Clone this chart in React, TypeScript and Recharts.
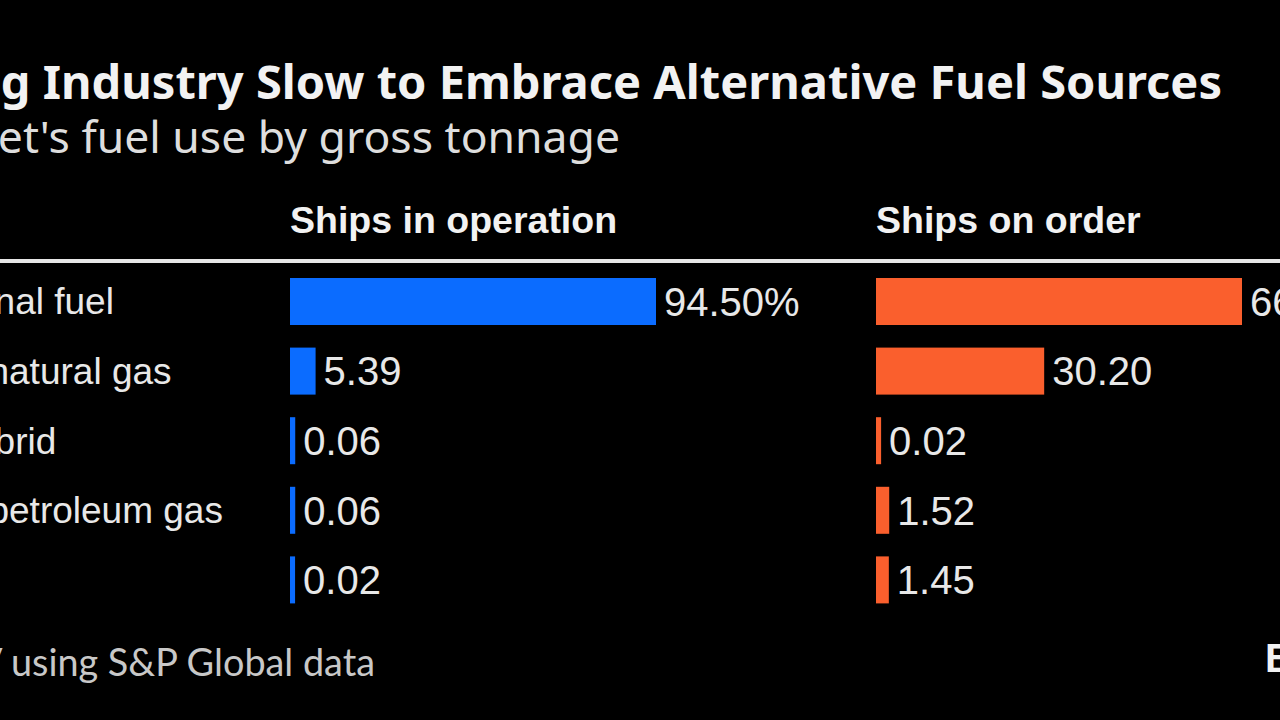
import React from "react";
import { BarChart, Bar, XAxis, YAxis, LabelList } from "recharts";

const categories = [
  "Conventional fuel",
  "Liquefied natural gas",
  "Battery hybrid",
  "Liquefied petroleum gas",
  "Methanol",
];
const inOperation = [94.5, 5.39, 0.06, 0.06, 0.02];
const onOrder = [66.81, 30.2, 0.02, 1.52, 1.45];

const TITLE = "Shipping Industry Slow to Embrace Alternative Fuel Sources";
const SUBTITLE = "Global fleet's fuel use by gross tonnage";
const HEAD_LEFT = "Ships in operation";
const HEAD_RIGHT = "Ships on order";
const SOURCE = "Source: DNV using S&P Global data";
const LOGO = "Bloomberg";

const fmt = (v: number, i: number) => (i === 0 ? v.toFixed(2) + "%" : v.toFixed(2));

const data = categories.map((name, i) => ({
  name,
  op: inOperation[i],
  ord: onOrder[i],
  opLabel: fmt(inOperation[i], i),
  ordLabel: fmt(onOrder[i], i),
}));

const LABEL_FONT = "'Liberation Sans', Arial, sans-serif";
const TITLE_FONT = "'Noto Sans', 'Open Sans', sans-serif";
const BLUE = "#0b6cff";
const ORANGE = "#fa5f2d";
const TEXT = "#e8e8e8";

const renderBar = (color: string) => (props: any) => {
  const { x, y, width, height } = props;
  return (
    <rect
      x={Number(x) - 5}
      y={Number(y)}
      width={Math.max(0, Number(width)) + 5}
      height={Number(height)}
      fill={color}
    />
  );
};

const CatTick = (props: any) => {
  const { y, payload } = props;
  return (
    <text
      x={28}
      y={y}
      dominantBaseline="central"
      textAnchor="start"
      fill={TEXT}
      fontSize={37}
      fontFamily={LABEL_FONT}
    >
      {payload.value}
    </text>
  );
};

export default function App() {
  return (
    <div
      style={{
        position: "fixed",
        left: 0,
        top: 0,
        width: 1280,
        height: 720,
        overflow: "hidden",
        background: "#000",
      }}
    >
      <svg width={1280} height={720} style={{ position: "absolute", left: 0, top: 0 }}>
        <text
          x={1222}
          y={99}
          textAnchor="end"
          fill="#f2f2f2"
          fontSize={47}
          fontWeight={700}
          fontFamily={TITLE_FONT}
        >
          {TITLE}
        </text>
        <text
          x={620}
          y={153}
          textAnchor="end"
          fill="#dedede"
          fontSize={44.5}
          fontFamily={TITLE_FONT}
        >
          {SUBTITLE}
        </text>
        <text
          x={290}
          y={233}
          fill="#f2f2f2"
          fontSize={37.5}
          fontWeight={700}
          fontFamily={LABEL_FONT}
        >
          {HEAD_LEFT}
        </text>
        <text
          x={876}
          y={233}
          fill="#f2f2f2"
          fontSize={37.5}
          fontWeight={700}
          fontFamily={LABEL_FONT}
        >
          {HEAD_RIGHT}
        </text>
        <rect x={0} y={259} width={1280} height={4} fill="#e6e6e6" />
        <text
          x={375}
          y={676}
          textAnchor="end"
          fill="#c8c8c8"
          fontSize={37.8}
          fontFamily="Lato, 'Noto Sans', sans-serif"
        >
          {SOURCE}
        </text>
        <text
          x={1265}
          y={672}
          fill="#f2f2f2"
          fontSize={40}
          fontWeight={700}
          fontFamily={LABEL_FONT}
        >
          {LOGO}
        </text>
      </svg>

      <div style={{ position: "absolute", left: -200, top: 267 }}>
        <BarChart
          width={1050}
          height={348}
          data={data}
          layout="vertical"
          margin={{ top: 0, right: 194, bottom: 0, left: 0 }}
          barSize={47}
        >
          <XAxis type="number" hide domain={[0, Math.max(...inOperation)]} />
          <YAxis
            type="category"
            dataKey="name"
            width={495}
            axisLine={false}
            tickLine={false}
            tick={<CatTick />}
          />
          <Bar dataKey="op" fill={BLUE} isAnimationActive={false} shape={renderBar(BLUE)}>
            <LabelList
              dataKey="opLabel"
              position="right"
              offset={8}
              fill={TEXT}
              fontSize={40}
              fontFamily={LABEL_FONT}
            />
          </Bar>
        </BarChart>
      </div>

      <div style={{ position: "absolute", left: 876, top: 267 }}>
        <BarChart
          width={566}
          height={348}
          data={data}
          layout="vertical"
          margin={{ top: 0, right: 200, bottom: 0, left: 5 }}
          barSize={47}
        >
          <XAxis type="number" hide domain={[0, Math.max(...onOrder)]} />
          <YAxis type="category" dataKey="name" hide />
          <Bar dataKey="ord" fill={ORANGE} isAnimationActive={false} shape={renderBar(ORANGE)}>
            <LabelList
              dataKey="ordLabel"
              position="right"
              offset={8}
              fill={TEXT}
              fontSize={40}
              fontFamily={LABEL_FONT}
            />
          </Bar>
        </BarChart>
      </div>
    </div>
  );
}
